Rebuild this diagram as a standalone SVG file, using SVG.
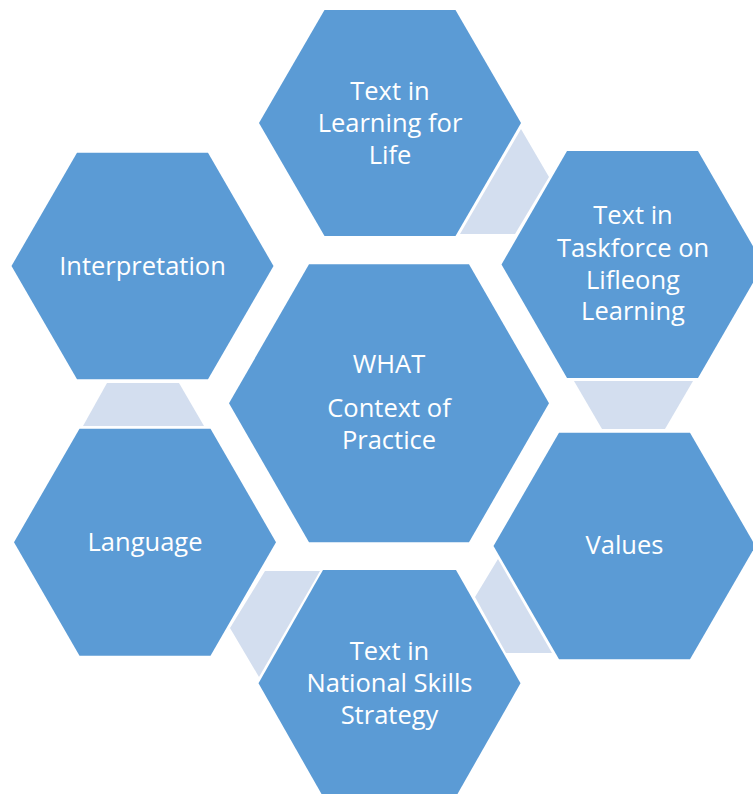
<svg xmlns="http://www.w3.org/2000/svg" width="753" height="794" viewBox="0 0 753 794">
  <style>
    .hex { fill: #5B9BD5; }
    .link { fill: #D3DEEF; }
    .lbl { font-family: "Open Sans", "Noto Sans", "Liberation Sans", sans-serif; font-size: 25.5px; fill: #FFFFFF; text-anchor: middle; }
  </style>
  <rect width="753" height="794" fill="#FFFFFF"/>

  <!-- light trapezoid links between neighbouring hexagons -->
  <g id="connectors">
    <polygon class="link" points="521,129 549,177 515,234 460,234"/>
    <polygon class="link" points="574,381 693,381 665,429 602,429"/>
    <polygon class="link" points="498,559 475,597 506,653 552,653"/>
    <polygon class="link" points="265,571 320,571 259,677 230,628"/>
    <polygon class="link" points="107,383 179,383 204,426 83,426"/>
  </g>

  <g id="node-center">
    <polygon class="hex" points="229,403.3 309,264.3 469,264.3 549,403.3 469,542.3 309,542.3"/>
    <text class="lbl" x="389" y="373">WHAT</text>
    <text class="lbl" x="389" y="417">Context of</text>
    <text class="lbl" x="389" y="449">Practice</text>
  </g>

  <g id="node-learning-for-life">
    <polygon class="hex" points="259,123 324.5,10 455.5,10 521,123 455.5,236 324.5,236"/>
    <text class="lbl" x="390" y="99.5">Text in</text>
    <text class="lbl" x="390" y="131.5">Learning for</text>
    <text class="lbl" x="390" y="163.5">Life</text>
  </g>

  <g id="node-taskforce">
    <polygon class="hex" points="501.5,264.5 567,151 698,151 763.5,264.5 698,378 567,378"/>
    <text class="lbl" x="633" y="223.5">Text in</text>
    <text class="lbl" x="633" y="256.5">Taskforce on</text>
    <text class="lbl" x="633" y="288.5">Lifleong</text>
    <text class="lbl" x="633" y="320">Learning</text>
  </g>

  <g id="node-values">
    <polygon class="hex" points="493.5,546 559,432.7 690,432.7 755.5,546 690,659.3 559,659.3"/>
    <text class="lbl" x="624.5" y="554">Values</text>
  </g>

  <g id="node-national-skills">
    <polygon class="hex" points="258.5,683.3 323,570 456,570 520.5,683.3 456,796.6 323,796.6"/>
    <text class="lbl" x="389.5" y="660">Text in</text>
    <text class="lbl" x="389.5" y="691.5">National Skills</text>
    <text class="lbl" x="389.5" y="723.5">Strategy</text>
  </g>

  <g id="node-language">
    <polygon class="hex" points="14,542.2 79.5,428.7 210.5,428.7 276,542.2 210.5,655.7 79.5,655.7"/>
    <text class="lbl" x="145" y="550.5">Language</text>
  </g>

  <g id="node-interpretation">
    <polygon class="hex" points="11.5,266 77,152.7 208,152.7 273.5,266 208,379.3 77,379.3"/>
    <text class="lbl" x="142.5" y="275">Interpretation</text>
  </g>
</svg>
